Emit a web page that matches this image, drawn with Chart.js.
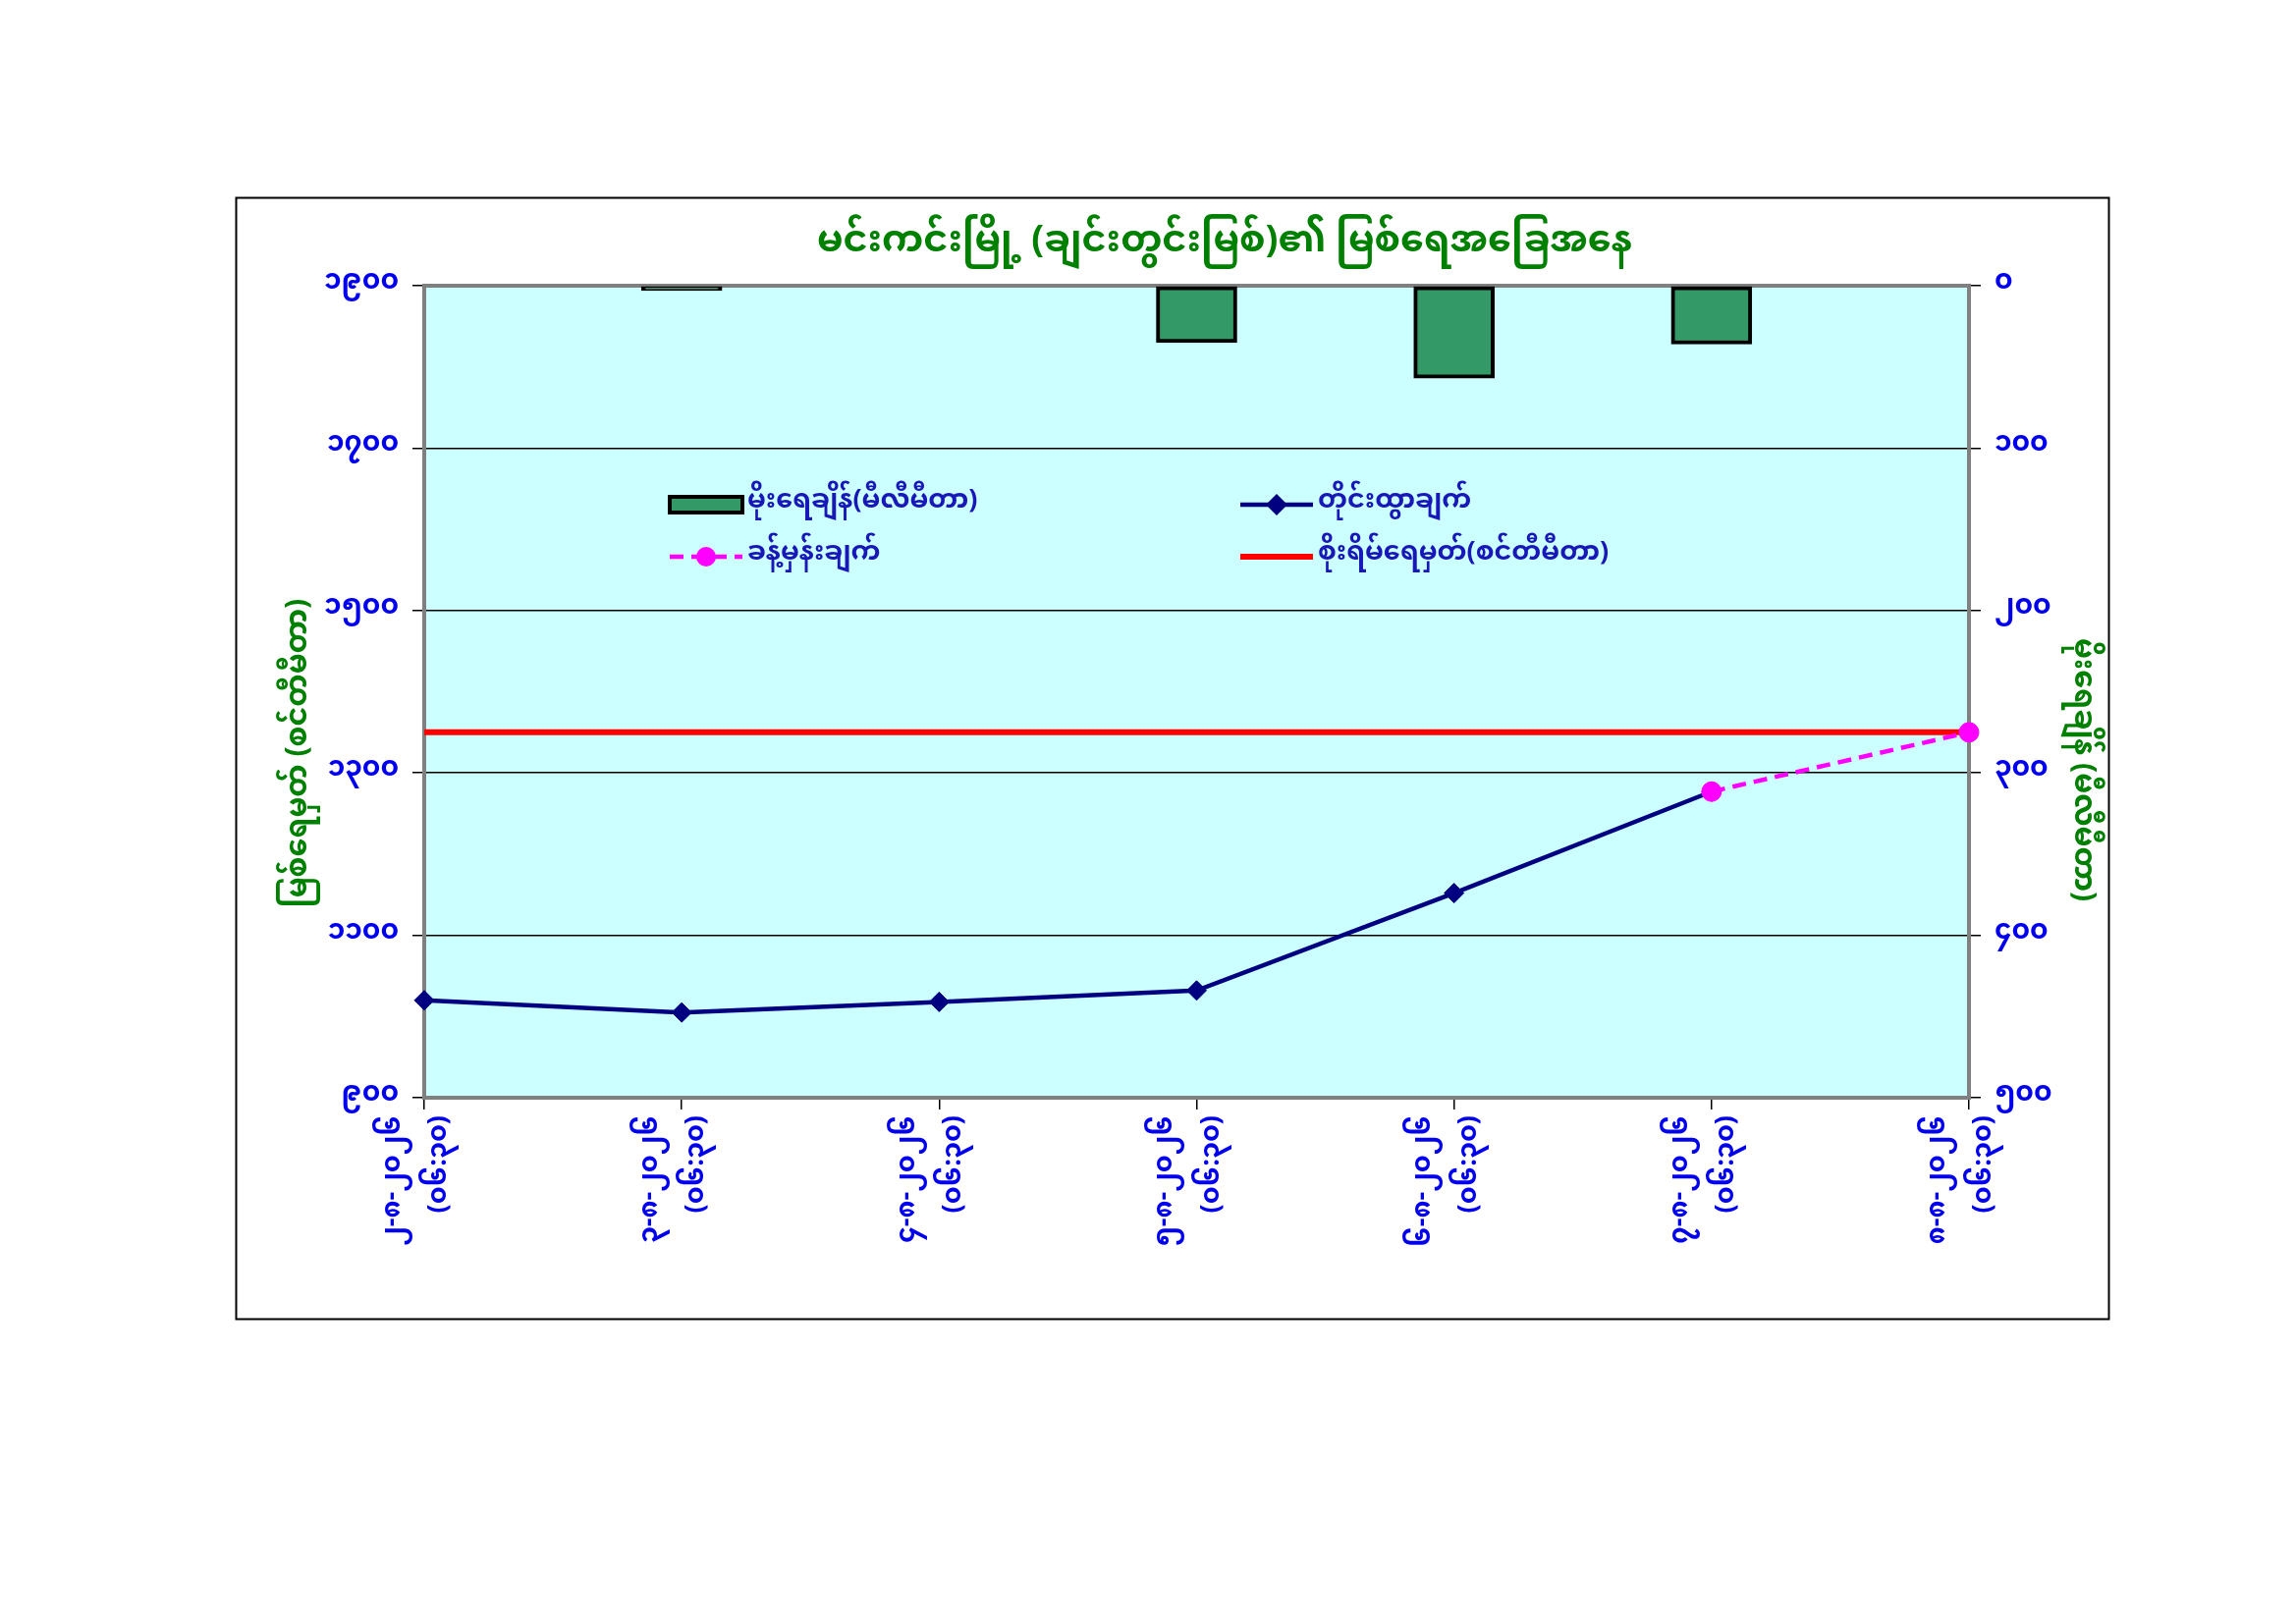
<!DOCTYPE html>
<html><head><meta charset="utf-8">
<script src="https://cdn.jsdelivr.net/npm/chart.js@4/dist/chart.umd.min.js"></script>
<style>html,body{margin:0;padding:0;background:#fff;overflow:hidden}</style>
</head><body>
<canvas id="c" width="2338" height="1654"></canvas>
<script>
// ---- data ----
const titleText = 'မင်းကင်းမြို့ (ချင်းတွင်းမြစ်)၏ မြစ်ရေအခြေအနေ';
const leftAxisTitle = 'မြစ်ရေမှတ် (စင်တီမီတာ)';
const rightAxisTitle = 'မိုးရေချိန် (မီလီမီတာ)';
const dates = ['၂-၈-၂၀၂၆','၃-၈-၂၀၂၆','၄-၈-၂၀၂၆','၅-၈-၂၀၂၆','၆-၈-၂၀၂၆','၇-၈-၂၀၂၆','၈-၈-၂၀၂၆'];
const times = ['(၀၆:၃၀)','(၀၆:၃၀)','(၀၆:၃၀)','(၀၆:၃၀)','(၀၆:၃၀)','(၀၆:၃၀)','(၀၆:၃၀)'];
const rainfall = [0, 3, 0, 35, 57, 36, 0];
const observed = [1020, 1005, 1018, 1032, 1152, 1277, null];
const forecast = [null, null, null, null, null, 1277, 1350];
const dangerLevel = [1350, 1350, 1350, 1350, 1350, 1350, 1350];
const seriesNames = ['မိုးရေချိန်(မီလီမီတာ)', 'တိုင်းထွာချက်', 'ခန့်မှန်းချက်', 'စိုးရိမ်ရေမှတ်(စင်တီမီတာ)'];
const leftTickValues = [900, 1100, 1300, 1500, 1700, 1900];
const leftTickLabels = ['၉၀၀','၁၁၀၀','၁၃၀၀','၁၅၀၀','၁၇၀၀','၁၉၀၀'];
const rightTickValues = [0, 100, 200, 300, 400, 500];
const rightTickLabels = ['၀','၁၀၀','၂၀၀','၃၀၀','၄၀၀','၅၀၀'];

const FONT = "'Noto Sans Myanmar','Padauk','Myanmar Text','Myanmar3','Noto Sans',sans-serif";
const TICK_BLUE = '#0000EE';
const LEG_BLUE = '#1818B8';
const GREEN = '#008000';

const decor = {
  id: 'decor',
  beforeDraw(chart) {
    const ctx = chart.ctx, a = chart.chartArea;
    ctx.save();
    ctx.fillStyle = '#ffffff';
    ctx.fillRect(0, 0, chart.width, chart.height);
    ctx.strokeStyle = '#000';
    ctx.lineWidth = 2;
    ctx.strokeRect(240.5, 201.5, 1907, 1142);
    ctx.fillStyle = '#CCFFFF';
    ctx.fillRect(a.left, a.top, a.right - a.left, a.bottom - a.top);
    ctx.restore();
  },
  beforeDatasetsDraw(chart) {
    const ctx = chart.ctx, a = chart.chartArea;
    ctx.save();
    ctx.strokeStyle = '#808080';
    ctx.lineWidth = 4;
    ctx.strokeRect(a.left, a.top, a.right - a.left, a.bottom - a.top);
    ctx.restore();
  },
  afterDraw(chart) {
    const ctx = chart.ctx;
    ctx.save();
    // title
    ctx.fillStyle = GREEN;
    ctx.font = "bold 38px " + FONT;
    ctx.textAlign = 'center';
    ctx.textBaseline = 'middle';
    ctx.fillText(titleText, 1247, 252);
    // axis titles
    ctx.font = "bold 30px " + FONT;
    ctx.save();
    ctx.translate(309, 767);
    ctx.rotate(-Math.PI / 2);
    ctx.fillText(leftAxisTitle, 0, 0);
    ctx.restore();
    ctx.save();
    ctx.translate(2116, 784);
    ctx.rotate(Math.PI / 2);
    ctx.fillText(rightAxisTitle, 0, 0);
    ctx.restore();
    // legend
    const ds = chart.data.datasets;
    const rows = [514, 567];
    const cols = [682, 1263];
    const slots = [[0, 0], [1, 0], [0, 1], [1, 1]]; // [col,row] for datasets 0..3
    ctx.font = "bold 27px " + FONT;
    ctx.textAlign = 'left';
    ds.forEach((d, i) => {
      const x0 = cols[slots[i][0]], y = rows[slots[i][1]];
      const x1 = x0 + 74, xm = (x0 + x1) / 2;
      if (d.type === 'bar') {
        ctx.fillStyle = d.backgroundColor;
        ctx.fillRect(x0, y - 8, x1 - x0, 16);
        ctx.strokeStyle = d.borderColor;
        ctx.lineWidth = 4;
        ctx.strokeRect(x0, y - 8, x1 - x0, 16);
      } else {
        ctx.strokeStyle = d.borderColor;
        ctx.lineWidth = d.borderWidth;
        ctx.setLineDash(d.borderDash || []);
        ctx.beginPath(); ctx.moveTo(x0, y); ctx.lineTo(x1, y); ctx.stroke();
        ctx.setLineDash([]);
        if (d.pointRadius > 0) {
          ctx.fillStyle = d.pointBackgroundColor;
          ctx.beginPath();
          if (d.pointStyle === 'rectRot') {
            const r = d.pointRadius + 1;
            ctx.moveTo(xm, y - r); ctx.lineTo(xm + r, y); ctx.lineTo(xm, y + r); ctx.lineTo(xm - r, y);
            ctx.closePath();
          } else {
            ctx.arc(xm, y, d.pointRadius, 0, Math.PI * 2);
          }
          ctx.fill();
        }
      }
      ctx.fillStyle = LEG_BLUE;
      ctx.textBaseline = 'middle';
      ctx.fillText(d.label, x1 + 5, y);
    });
    ctx.restore();
  }
};

new Chart(document.getElementById('c'), {
  data: {
    labels: dates.map((d, i) => [d, times[i]]),
    datasets: [
      { type: 'bar', label: seriesNames[0], data: rainfall, yAxisID: 'y1',
        backgroundColor: '#339966', borderColor: '#000000', borderWidth: 4,
        borderSkipped: false, barThickness: 82, order: 4 },
      { type: 'line', label: seriesNames[1], data: observed, yAxisID: 'y',
        borderColor: '#000080', borderWidth: 4.5, pointStyle: 'rectRot', pointRadius: 10,
        pointBackgroundColor: '#000080', pointBorderColor: '#000080', pointBorderWidth: 1,
        tension: 0, clip: false, spanGaps: false, order: 2 },
      { type: 'line', label: seriesNames[2], data: forecast, yAxisID: 'y',
        borderColor: '#FF00FF', borderWidth: 4.5, borderDash: [14, 8], pointStyle: 'circle', pointRadius: 10,
        pointBackgroundColor: '#FF00FF', pointBorderColor: '#FF00FF', pointBorderWidth: 1,
        tension: 0, clip: false, order: 1 },
      { type: 'line', label: seriesNames[3], data: dangerLevel, yAxisID: 'y',
        borderColor: '#FF0000', borderWidth: 6, pointRadius: 0, pointBackgroundColor: '#FF0000',
        tension: 0, clip: false, order: 3 }
    ]
  },
  options: {
    responsive: false,
    animation: false,
    devicePixelRatio: 1,
    layout: { padding: { left: 240, right: 190, top: 291, bottom: 310 } },
    plugins: { legend: { display: false }, tooltip: { enabled: false }, title: { display: false } },
    scales: {
      x: {
        type: 'category', offset: false,
        grid: { offset: false, drawOnChartArea: false, drawTicks: true, tickLength: 12, color: '#000', lineWidth: 1.5 },
        border: { display: false },
        ticks: { autoSkip: false, maxRotation: 90, minRotation: 90, color: TICK_BLUE, padding: 6,
                 labelOffset: -28,
                 font: { family: FONT, size: 27, weight: 'bold', lineHeight: 1.75 } },
        afterFit: s => { s.height = 226; }
      },
      y: {
        position: 'left', min: 900, max: 1900,
        grid: { color: '#000', lineWidth: 1.5, tickLength: 12 },
        border: { display: false },
        ticks: { stepSize: 200, color: TICK_BLUE, padding: 14,
                 font: { family: FONT, size: 28, weight: 'bold' },
                 callback: v => { const i = leftTickValues.indexOf(v); return i >= 0 ? leftTickLabels[i] : ''; } },
        afterFit: s => { s.width = 192; }
      },
      y1: {
        position: 'right', min: 0, max: 500, reverse: true,
        grid: { drawOnChartArea: false, color: '#000', lineWidth: 1.5, tickLength: 12 },
        border: { display: false },
        ticks: { stepSize: 100, color: TICK_BLUE, padding: 14,
                 font: { family: FONT, size: 28, weight: 'bold' },
                 callback: v => { const i = rightTickValues.indexOf(v); return i >= 0 ? rightTickLabels[i] : ''; } },
        afterFit: s => { s.width = 143; }
      }
    }
  },
  plugins: [decor]
});
</script>
</body></html>
